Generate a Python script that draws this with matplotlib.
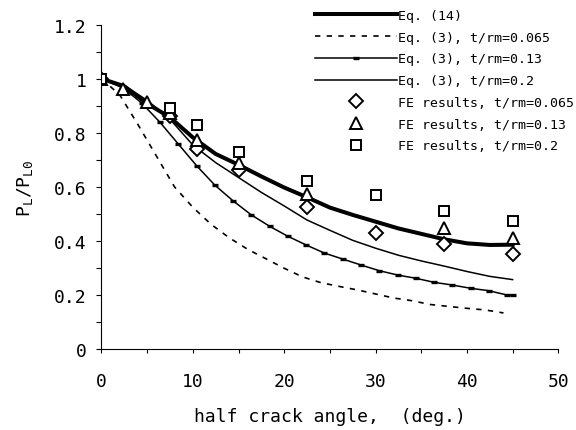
import numpy as np
import matplotlib
matplotlib.use('Agg')
import matplotlib.pyplot as plt
from matplotlib.ticker import MultipleLocator

plt.rcParams['font.family'] = ['DejaVu Sans Mono']

# Eq. (14)
x_eq14 = [0, 2.5, 5, 7.5, 10, 12.5, 15, 17.5, 20, 22.5, 25, 27.5, 30, 32.5, 35, 37.5, 40, 42.5, 45]
y_eq14 = [1.0, 0.972, 0.908, 0.857, 0.783, 0.722, 0.682, 0.639, 0.598, 0.562, 0.524, 0.497,
          0.472, 0.447, 0.427, 0.407, 0.392, 0.386, 0.387]

# Eq. (3), t/rm=0.065
x_e065 = [0, 2, 4, 6, 8, 10, 12, 14, 16, 18, 20, 22, 24, 26, 28, 30, 32, 34, 36, 38, 40, 42, 44]
y_e065 = [1.0, 0.94, 0.83, 0.715, 0.60, 0.525, 0.462, 0.412, 0.37, 0.335, 0.30, 0.268, 0.247,
          0.233, 0.22, 0.205, 0.19, 0.18, 0.166, 0.159, 0.152, 0.146, 0.135]

# Eq. (3), t/rm=0.13
x_e13 = [0, 2.4, 4.4, 6.4, 8.4, 10.4, 12.4, 14.4, 16.4, 18.4, 20.4, 22.4, 24.4, 26.4, 28.4,
         30.4, 32.4, 34.4, 36.4, 38.4, 40.4, 42.4, 44.4, 45]
y_e13 = [1.0, 0.965, 0.91, 0.839, 0.759, 0.679, 0.607, 0.549, 0.497, 0.455, 0.418, 0.386,
         0.356, 0.334, 0.312, 0.291, 0.275, 0.263, 0.248, 0.238, 0.226, 0.217, 0.201, 0.201]

# Eq. (3), t/rm=0.2
x_e2 = [0, 2.5, 5, 7.5, 10, 12.5, 15, 17.5, 20, 22.5, 25, 27.5, 30, 32.5, 35, 37.5, 40, 42.5, 45]
y_e2 = [1.0, 0.975, 0.92, 0.85, 0.755, 0.69, 0.635, 0.58, 0.53, 0.478, 0.44, 0.403, 0.374,
        0.348, 0.327, 0.308, 0.288, 0.27, 0.258]

# FE results
x_fe065 = [0, 7.5, 10.5, 15, 22.5, 30, 37.5, 45]
y_fe065 = [1.0, 0.863, 0.740, 0.664, 0.526, 0.430, 0.390, 0.353]
x_fe13 = [0, 2.3, 5, 7.5, 10.5, 15, 22.5, 37.5, 45]
y_fe13 = [1.0, 0.962, 0.915, 0.873, 0.775, 0.689, 0.574, 0.448, 0.411]
x_fe2 = [0, 7.5, 10.5, 15, 22.5, 30, 37.5, 45]
y_fe2 = [1.0, 0.891, 0.830, 0.728, 0.623, 0.572, 0.513, 0.476]

x_ticks = [0, 10, 20, 30, 40, 50]
x_ticklabels = ['0', '10', '20', '30', '40', '50']
y_ticks = [0, 0.2, 0.4, 0.6, 0.8, 1.0, 1.2]
y_ticklabels = ['0', '0.2', '0.4', '0.6', '0.8', '1', '1.2']

fig = plt.figure(figsize=(5.76, 4.31), dpi=100)
ax = fig.add_axes([0.1762, 0.1868, 0.9693 - 0.1762, 0.9408 - 0.1868])

ax.plot(x_eq14, y_eq14, color='black', lw=2.9, label='Eq. (14)')
ax.plot(x_e065, y_e065, color='black', lw=1.2, dashes=(3.2, 3.8), label='Eq. (3), t/rm=0.065')
ax.plot(x_e13, y_e13, color='black', lw=1.1, marker='_', ms=5, mew=2.4,
        label='Eq. (3), t/rm=0.13')
ax.plot(x_e2, y_e2, color='black', lw=1.1, label='Eq. (3), t/rm=0.2')
ax.plot(x_fe065, y_fe065, ls='none', marker='D', ms=6.8, mfc='white', mec='black', mew=1.4,
        label='FE results, t/rm=0.065')
ax.plot(x_fe13, y_fe13, ls='none', marker='^', ms=8.5, mfc='white', mec='black', mew=1.4,
        label='FE results, t/rm=0.13')
ax.plot(x_fe2, y_fe2, ls='none', marker='s', ms=7.5, mfc='white', mec='black', mew=1.4,
        label='FE results, t/rm=0.2')

ax.set_xlim(0, 50)
ax.set_ylim(0, 1.2)
ax.set_xticks(x_ticks)
ax.set_xticklabels(x_ticklabels)
ax.xaxis.set_minor_locator(MultipleLocator(5))
ax.set_yticks(y_ticks)
ax.set_yticklabels(y_ticklabels)
ax.yaxis.set_minor_locator(MultipleLocator(0.1))

for s in ['top', 'right']:
    ax.spines[s].set_visible(False)
for s in ['left', 'bottom']:
    ax.spines[s].set_linewidth(0.8)

ax.tick_params(axis='y', which='both', direction='out', length=3.6, width=0.8,
               labelsize=13, pad=7)
ax.tick_params(axis='x', which='both', direction='out', length=3.2, width=0.8,
               labelsize=13, pad=13)

ax.set_xlabel('half crack angle,  (deg.)', fontsize=13, labelpad=12)
ax.set_ylabel(r'$\mathregular{P_L/P_{L0}}$', fontsize=13, labelpad=14)

ax.legend(loc='upper left', bbox_to_anchor=(315 / 576, 1 - 10 / 431),
          bbox_transform=fig.transFigure, frameon=False, fontsize=9.5,
          handlelength=6.2, handletextpad=0.1, labelspacing=0.66,
          borderpad=0, borderaxespad=0, numpoints=1)

fig.savefig('out.png', dpi=100)
